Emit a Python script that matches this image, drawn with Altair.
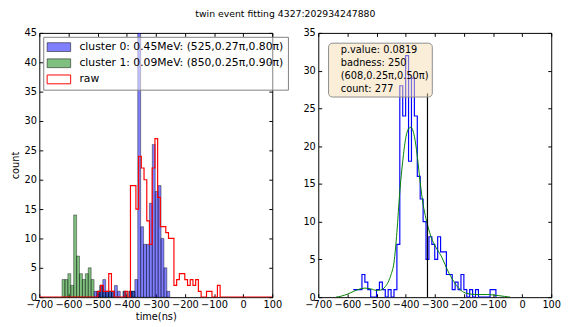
import altair as alt
import pandas as pd

# ---------------- text ----------------
TITLE = "twin event fitting 4327:202934247880"
LBL0 = "cluster 0: 0.45MeV: (525,0.27π,0.80π)"
LBL1 = "cluster 1: 0.09MeV: (850,0.25π,0.90π)"
LBL_RAW = "raw"
INFO = ["p.value: 0.0819", "badness: 250", "(608,0.25π,0.50π)", "count: 277"]

x_ticks = [-700, -600, -500, -400, -300, -200, -100, 0, 100]
y_ticks_left = [0, 5, 10, 15, 20, 25, 30, 35, 40, 45]
y_ticks_right = [0, 5, 10, 15, 20, 25, 30, 35]

# ---------------- left panel data ----------------
BIN_W = 10
green_start = [-622, -612, -602, -592, -582, -572, -562, -552, -542, -532, -522,
               -502, -492, -482, -472, -462, -452, -412, -392, -382]
green_count = [3, 3, 4, 2, 14, 7, 4, 3, 4, 5, 3,
               1, 2, 1, 1, 1, 1, 1, 1, 1]

blue_start = [-512, -502, -492, -482, -472, -462, -452, -442, -432, -412, -392, -382,
              -372, -362, -352, -342, -332, -322, -312, -302, -292, -282, -272, -262]
blue_count = [1, 1, 2, 3, 1, 1, 1, 2, 1, 1, 1, 1,
              3, 48, 12, 9, 9, 16, 26, 18, 19, 10, 5, 1]

raw_edge = [-700, -499.0, -489.6, -480.3, -471.0, -461.6, -452.3, -443.0, -433.7, -424.3,
            -415.0, -405.7, -396.3, -387.0, -377.7, -368.3, -359.0, -349.7, -340.4, -331.0,
            -321.7, -312.4, -303.0, -293.7, -284.4, -275.0, -265.7, -256.4, -247.1, -237.7,
            -228.4, -219.1, -209.7, -200.4, -191.1, -181.7, -172.4, -163.1, -153.8, -144.4,
            -135.1, -125.8, -116.4, -107.1, -97.8, -88.4, -79.1, 100]
raw_count = [0, 1, 2, 1, 1, 4, 1, 0, 0, 0,
             0, 1, 0, 19, 19, 15, 24, 22, 20, 13,
             9, 22, 27, 17, 12, 12, 11, 10, 10, 2,
             3, 4, 4, 3, 2, 3, 2, 3, 1, 0,
             0, 1, 1, 0, 0, 2, 0, 0]

# ---------------- right panel data ----------------
fit_edge = [-580, -570, -560, -550, -540, -530, -520, -510, -500, -490,
            -480, -470, -460, -450, -440, -430, -420, -410, -400, -390,
            -380, -370, -360, -350, -340, -330, -320, -310, -300, -290,
            -280, -270, -260, -250, -240, -230, -220, -210, -200, -190,
            -180, -170, -160, -150, -140, -130, -120, -110, -100, -90]
fit_count = [1, 1, 1, 3, 2, 1, 0, 0, 1, 2,
             1, 0, 1, 0, 1, 7, 28, 24, 32, 18,
             29, 24, 16, 13, 10, 5, 8, 7, 5, 8,
             6, 6, 3, 3, 1, 2, 1, 3, 1, 0,
             1, 0, 1, 0, 0, 0, 0, 1, 1, 0]

curve_t = [-640, -620, -600, -580, -560, -540, -520, -500, -485, -470, -460, -450, -440,
           -430, -420, -410, -400, -390, -382, -370, -360, -350, -340, -330, -320, -310,
           -300, -290, -280, -270, -260, -250, -240, -230, -220, -210, -200, -190, -175,
           -150, -120, -100, -80, -60, -40]
curve_v = [0.0, 0.15, 0.4, 0.75, 1.05, 1.2, 1.1, 0.9, 0.95, 1.4, 2.0, 3.0, 4.6,
           8.6, 14.0, 18.0, 21.0, 22.3, 22.5, 21.3, 18.7, 15.2, 12.3, 10.4, 8.9, 7.7,
           6.9, 6.2, 5.6, 4.8, 3.9, 3.1, 2.4, 1.8, 1.3, 0.9, 0.65, 0.5, 0.4,
           0.35, 0.35, 0.3, 0.2, 0.1, 0.0]

mark_t = [-325]
mark_bottom = [0]
mark_top = [27]

# ---------------- frames ----------------
green_df = pd.DataFrame({"start": green_start, "end": [s + BIN_W for s in green_start],
                         "count": green_count, "base": 0, "series": LBL1})
blue_df = pd.DataFrame({"start": blue_start, "end": [s + BIN_W for s in blue_start],
                        "count": blue_count, "base": 0, "series": LBL0})
raw_df = pd.DataFrame({"t": raw_edge, "count": raw_count, "series": LBL_RAW})
fit_df = pd.DataFrame({"t": fit_edge, "count": fit_count})
curve_df = pd.DataFrame({"t": curve_t, "v": curve_v})
mark_df = pd.DataFrame({"t": mark_t, "bottom": mark_bottom, "top": mark_top})
info_df = pd.DataFrame({"line": INFO})

W, H = 238, 270
FONT = "DejaVu Sans"


def x_axis_main(title):
    return alt.Axis(orient="bottom", values=x_ticks, format="d", title=title, ticks=False,
                    domain=False, labelPadding=3, labelFlush=False, labelOverlap=False,
                    titlePadding=2)


def y_axis_main(values, title):
    return alt.Axis(orient="left", values=values, format="d", title=title, ticks=False,
                    domain=False, labelPadding=3, labelFlush=False, labelOverlap=False,
                    titlePadding=4)


def x_axis_in(orient):
    return alt.Axis(orient=orient, offset=-H, values=x_ticks, labels=False, ticks=True,
                    tickSize=3.5, domain=False, title=None)


def y_axis_in(orient, values):
    return alt.Axis(orient=orient, offset=-W, values=values, labels=False, ticks=True,
                    tickSize=3.5, domain=False, title=None)


xs = alt.Scale(domain=[-700, 100], nice=False, zero=False)
ys_left = alt.Scale(domain=[0, 45], nice=False)
ys_right = alt.Scale(domain=[0, 35], nice=False)

DOM = [LBL0, LBL1, LBL_RAW]
fill_scale = alt.Scale(domain=DOM, range=["rgba(0,0,255,0.5)", "rgba(0,128,0,0.5)",
                                          "rgba(255,255,255,0)"])
stroke_scale = alt.Scale(domain=DOM, range=["rgba(0,0,0,0.5)", "rgba(0,0,0,0.5)", "#ff0000"])

leg_left = alt.Legend(
    title=None, orient="top-left", offset=4, padding=4,
    symbolType="M-1.083,-0.75H2.917V0.75H-1.083Z", symbolSize=144, symbolStrokeWidth=1,
    labelFontSize=11, labelFont=FONT, labelColor="black", labelLimit=400, labelOffset=20,
    rowPadding=3.5, fillColor="rgba(255,255,255,0.5)", strokeColor="#808080",
)

green = alt.Chart(green_df).mark_bar(clip=True, strokeWidth=0.8).encode(
    x=alt.X("start:Q", scale=xs, axis=x_axis_main("time(ns)")),
    x2="end:Q",
    y=alt.Y("count:Q", scale=ys_left, stack=None, axis=y_axis_main(y_ticks_left, "count")),
    y2="base:Q",
    fill=alt.Fill("series:N", scale=fill_scale, legend=leg_left),
    stroke=alt.Stroke("series:N", scale=stroke_scale, legend=leg_left),
)
blue = alt.Chart(blue_df).mark_bar(clip=True, strokeWidth=0.8).encode(
    x=alt.X("start:Q", scale=xs, axis=x_axis_in("top")),
    x2="end:Q",
    y=alt.Y("count:Q", scale=ys_left, stack=None, axis=y_axis_in("right", y_ticks_left)),
    y2="base:Q",
    fill=alt.Fill("series:N", scale=fill_scale, legend=leg_left),
    stroke=alt.Stroke("series:N", scale=stroke_scale, legend=leg_left),
)
raw = alt.Chart(raw_df).mark_line(interpolate="step-after", strokeWidth=1.2, clip=True).encode(
    x=alt.X("t:Q", scale=xs, axis=x_axis_in("bottom")),
    y=alt.Y("count:Q", scale=ys_left, axis=y_axis_in("left", y_ticks_left)),
    stroke=alt.Stroke("series:N", scale=stroke_scale, legend=leg_left),
)
left = alt.layer(green, blue, raw).resolve_axis(x="independent", y="independent").properties(
    width=W, height=H)

leg_info = alt.Legend(
    title=None, orient="top-left", offset=10, padding=3,
    symbolSize=0, symbolOpacity=0, symbolStrokeWidth=0, labelOffset=0,
    labelFontSize=10, labelFont=FONT,
    labelColor="black", labelLimit=300, rowPadding=3,
    fillColor="rgba(245,222,179,0.5)", strokeColor="#8c8c8c", cornerRadius=4,
)

fit_line = alt.Chart(fit_df).mark_line(interpolate="step-after", color="#0000ff",
                                       strokeWidth=1.2, clip=True).encode(
    x=alt.X("t:Q", scale=xs, axis=x_axis_main(None)),
    y=alt.Y("count:Q", scale=ys_right, axis=y_axis_main(y_ticks_right, None)),
)
curve = alt.Chart(curve_df).mark_line(interpolate="monotone", color="#008000",
                                      strokeWidth=1, clip=True).encode(
    x=alt.X("t:Q", scale=xs, axis=x_axis_in("top")),
    y=alt.Y("v:Q", scale=ys_right, axis=y_axis_in("right", y_ticks_right)),
)
vline = alt.Chart(mark_df).mark_rule(color="black", strokeWidth=1.2).encode(
    x=alt.X("t:Q", scale=xs, axis=x_axis_in("bottom")),
    y=alt.Y("top:Q", scale=ys_right, axis=y_axis_in("left", y_ticks_right)),
    y2="bottom:Q",
)
info = alt.Chart(info_df).mark_point(opacity=0).encode(
    shape=alt.Shape("line:N", scale=alt.Scale(domain=INFO), legend=leg_info),
)
right = alt.layer(fit_line, curve, vline, info).resolve_axis(
    x="independent", y="independent").properties(width=W, height=H)

chart = alt.hconcat(
    left, right, spacing=47, bounds="flush",
    title=alt.TitleParams(TITLE, fontSize=9.5, font=FONT, fontWeight="normal",
                          anchor="middle", color="black", offset=9),
).resolve_scale(fill="independent", stroke="independent", shape="independent").properties(
    padding={"left": 1, "top": -2, "right": 0, "bottom": 0}
).configure(font=FONT).configure_view(stroke="black", strokeWidth=1).configure_axis(
    grid=False, labelFont=FONT, labelFontSize=10, labelColor="black", titleFont=FONT,
    titleFontSize=10, titleFontWeight="normal", titleColor="black", tickColor="black",
    tickWidth=1, minExtent=0,
)

chart.save("out.html", embed_options={"renderer": "svg", "actions": False})
